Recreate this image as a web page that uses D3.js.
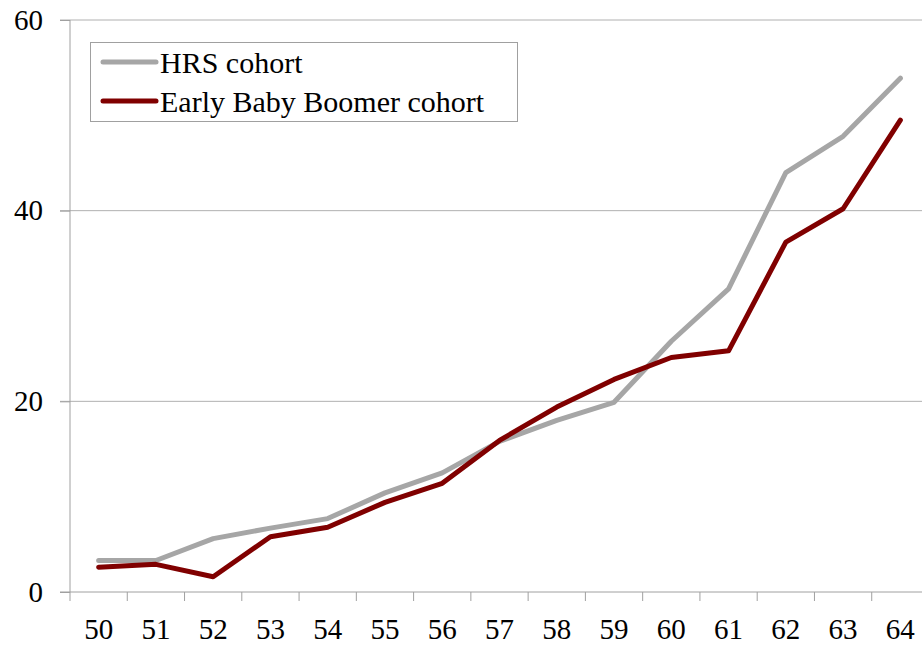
<!DOCTYPE html>
<html>
<head>
<meta charset="utf-8">
<script src="https://cdn.jsdelivr.net/npm/d3@7"></script>
<style>
  body { margin: 0; background: #fff; }
</style>
</head>
<body>
<div id="chart"></div>
<script>
// data
const ages = ["50","51","52","53","54","55","56","57","58","59","60","61","62","63","64"];
const hrs = [3.3, 3.3, 5.6, 6.7, 7.7, 10.4, 12.5, 15.8, 18.0, 19.9, 26.3, 31.8, 44.0, 47.8, 53.9];
const boomer = [2.6, 2.9, 1.6, 5.8, 6.8, 9.4, 11.4, 15.9, 19.4, 22.3, 24.6, 25.3, 36.7, 40.2, 49.5];
const yTicks = [0, 20, 40, 60];
const seriesNames = ["HRS cohort", "Early Baby Boomer cohort"];
const seriesColors = ["#a6a6a6", "#800000"];

const FONT = "'Liberation Serif', 'DejaVu Serif', 'Noto Serif', Tinos, FreeSerif, 'Times New Roman', Times, serif";

const W = 922, H = 648;
const margin = {top: 20, right: -7, bottom: 56, left: 70};
const width = W - margin.left - margin.right,
      height = H - margin.top - margin.bottom;

const svg = d3.select("#chart")
  .append("svg")
    .attr("width", W)
    .attr("height", H)
  .append("g")
    .attr("transform", `translate(${margin.left},${margin.top})`);

const x = d3.scaleBand()
  .domain(ages)
  .range([0, width]);

const y = d3.scaleLinear()
  .domain([0, 60])
  .range([height, 0]);

// gridlines
svg.append("g")
  .selectAll("line")
  .data(yTicks.filter(d => d > 0))
  .join("line")
    .attr("x1", -10)
    .attr("x2", width)
    .attr("y1", d => y(d))
    .attr("y2", d => y(d))
    .attr("stroke", "#b0b0b0")
    .attr("stroke-width", 1);

// y axis
const yAxis = svg.append("g")
  .call(d3.axisLeft(y).tickValues(yTicks).tickSize(10).tickPadding(17));
yAxis.attr("font-family", FONT);
yAxis.select(".domain").attr("stroke", "#a0a0a0").attr("d", `M0,${height}V0`);
yAxis.selectAll(".tick line").attr("stroke", "#a0a0a0");
yAxis.selectAll("text")
  .attr("font-family", FONT)
  .attr("font-size", 29)
  .attr("fill", "#000");

// x axis with ticks between categories
const xAxis = svg.append("g")
  .attr("transform", `translate(0,${height})`);
xAxis.append("line")
  .attr("x1", -10).attr("x2", width)
  .attr("stroke", "#a0a0a0");
xAxis.selectAll(".sep")
  .data(ages.concat(["end"]))
  .join("line")
    .attr("class", "sep")
    .attr("x1", (d, i) => i * x.step())
    .attr("x2", (d, i) => i * x.step())
    .attr("y1", 0)
    .attr("y2", 9)
    .attr("stroke", "#a0a0a0");
xAxis.selectAll(".lbl")
  .data(ages)
  .join("text")
    .attr("class", "lbl")
    .attr("x", d => x(d) + x.bandwidth() / 2)
    .attr("y", 47)
    .attr("text-anchor", "middle")
    .attr("font-family", FONT)
    .attr("font-size", 29)
    .text(d => d);

// lines
const line = d3.line()
  .x((d, i) => x(ages[i]) + x.bandwidth() / 2)
  .y(d => y(d));

[hrs, boomer].forEach((vals, k) => {
  svg.append("path")
    .datum(vals)
    .attr("d", line)
    .attr("fill", "none")
    .attr("stroke", seriesColors[k])
    .attr("stroke-width", 5)
    .attr("stroke-linejoin", "round")
    .attr("stroke-linecap", "round");
});

// legend
const legend = svg.append("g")
  .attr("transform", `translate(${90 - margin.left},${42 - margin.top})`);
legend.append("rect")
  .attr("x", 0.5).attr("y", 0.5)
  .attr("width", 427).attr("height", 79)
  .attr("fill", "#fff")
  .attr("stroke", "#a0a0a0");
seriesNames.forEach((name, k) => {
  const cy = 20 + k * 39;
  legend.append("line")
    .attr("x1", 13).attr("x2", 66)
    .attr("y1", cy).attr("y2", cy)
    .attr("stroke", seriesColors[k])
    .attr("stroke-width", 5)
    .attr("stroke-linecap", "round");
  legend.append("text")
    .attr("x", 70)
    .attr("y", cy)
    .attr("dy", "0.35em")
    .attr("font-family", FONT)
    .attr("font-size", 30)
    .text(name);
});
</script>
</body>
</html>
